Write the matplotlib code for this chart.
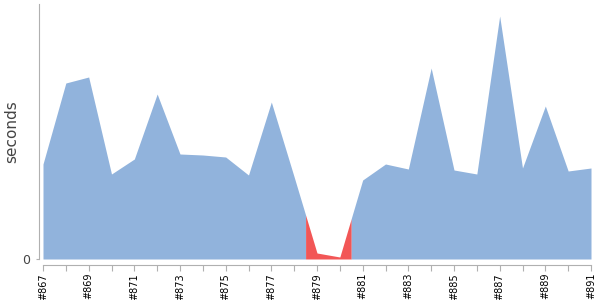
import matplotlib
matplotlib.use("Agg")
import matplotlib.pyplot as plt
import numpy as np

# build numbers, durations (seconds) and result of each build
builds = list(range(867, 892))
durations = [95, 176, 182, 85, 100, 165, 105, 104, 102, 84, 157, 82, 6, 2, 79,
             95, 90, 191, 89, 85, 243, 91, 153, 88, 91]
results = ["ok"] * 12 + ["fail", "fail"] + ["ok"] * 11

colors = {"ok": "#91b3dc", "fail": "#f25656"}

fig = plt.figure(figsize=(6, 3), dpi=100)
ax = fig.add_axes([43 / 600, 41 / 300, 548 / 600, 255 / 300])

x = np.arange(len(builds))
y = np.array(durations, dtype=float)

# group consecutive builds with the same result; each run owns the
# area from half-way to its neighbours
runs = []
start = 0
for i in range(1, len(results) + 1):
    if i == len(results) or results[i] != results[start]:
        runs.append((start, i - 1, results[start]))
        start = i

for i0, i1, res in runs:
    lo = max(i0 - 0.5, 0)
    hi = min(i1 + 0.5, len(builds) - 1)
    xs = np.concatenate([[lo], np.arange(i0, i1 + 1), [hi]])
    ys = np.interp(xs, x, y)
    ax.fill_between(xs, 0, ys, color=colors[res], linewidth=0)

ax.set_xlim(0, len(builds) - 1)
ax.set_ylim(0, 255)

for s in ["top", "right"]:
    ax.spines[s].set_visible(False)
ax.spines["left"].set_position(("outward", 3))
ax.spines["bottom"].set_position(("outward", 4))
for s in ["left", "bottom"]:
    ax.spines[s].set_color("#b0b0b0")
    ax.spines[s].set_linewidth(0.8)

ax.set_xticks(x)
ax.set_xticklabels(["#%d" % b if (b - builds[0]) % 2 == 0 else "" for b in builds],
                   rotation=90, fontsize=7, color="#000000")
ax.tick_params(axis="x", length=4, color="#b0b0b0", width=0.8, pad=2)

ax.set_yticks([0])
ax.set_yticklabels(["0"], fontsize=9, color="#444444")
ax.tick_params(axis="y", length=2, color="#b0b0b0", width=0.8, pad=4)

ax.set_ylabel("seconds", fontsize=11, color="#444444")
ax.yaxis.set_label_coords(-0.044, 0.5)

fig.savefig("out.png", dpi=100)
